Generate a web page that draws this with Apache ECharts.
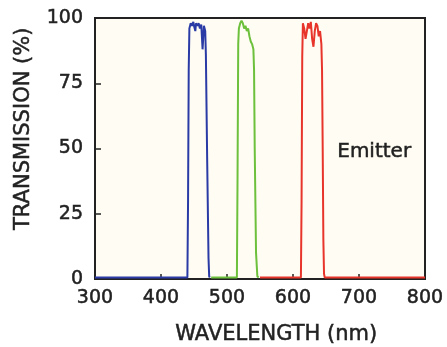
<!DOCTYPE html>
<html>
<head>
<meta charset="utf-8">
<script src="https://cdn.jsdelivr.net/npm/echarts@6/dist/echarts.min.js"></script>
<style>
html,body{margin:0;padding:0;background:#ffffff;}
#chart{width:447px;height:347px;}
</style>
</head>
<body>
<div id="chart"></div>
<script>
// Axis ticks
const xTicks = [300, 400, 500, 600, 700, 800];
const yTicks = [0, 25, 50, 75, 100];

// Blue emitter band
const blueWl = [300, 440, 441, 442, 443, 445, 447, 449, 450, 452, 453, 455, 457, 459, 461, 463, 465, 467, 468, 470, 472, 473, 474];
const blueT  = [0.6, 0.6, 30, 80, 96, 98, 97, 98.5, 97, 95, 98, 97, 98, 96, 97.5, 88, 97, 95, 86, 45, 8, 1, 0.6];

// Green emitter band
const greenWl = [476, 515, 516, 517, 518, 520, 522, 524, 526, 528, 530, 532, 534, 536, 538, 540, 541, 542, 544, 546, 548];
const greenT  = [0.6, 0.6, 40, 90, 96, 98, 99, 98, 96, 97, 95, 96, 93, 91, 90, 88, 80, 50, 10, 1, 0.6];

// Red emitter band
const redWl = [550, 612, 613, 614, 615, 617, 619, 621, 623, 625, 627, 629, 631, 633, 635, 637, 639, 641, 643, 644, 645, 646, 647, 648, 800];
const redT  = [0.6, 0.6, 30, 85, 98, 96, 92, 95, 98, 96, 98.5, 92, 89, 95, 98, 97, 93, 95, 90, 80, 50, 15, 2, 0.6, 0.6];

const zip = (a, b) => a.map((v, i) => [v, b[i]]);

const chart = echarts.init(document.getElementById('chart'));
const font = 'DejaVu Sans';
const txt = '#222222';
const heavy = { textBorderColor: txt, textBorderWidth: 0.5 };

chart.setOption({
  animation: false,
  backgroundColor: '#ffffff',
  grid: {
    left: 95, right: 22, top: 18, bottom: 68,
    show: true, backgroundColor: '#FFFDF3', borderColor: '#222222', borderWidth: 2
  },
  xAxis: {
    type: 'value', min: xTicks[0], max: xTicks[xTicks.length - 1], interval: 100,
    axisLine: { show: true, lineStyle: { color: '#222222', width: 2 } },
    axisTick: { show: true, inside: true, length: 5, lineStyle: { color: '#222222', width: 1.5 } },
    splitLine: { show: false },
    axisLabel: Object.assign({ fontFamily: font, fontSize: 19, color: txt, margin: 10 }, heavy)
  },
  yAxis: {
    type: 'value', min: yTicks[0], max: yTicks[yTicks.length - 1], interval: 25,
    axisLine: { show: true, lineStyle: { color: '#222222', width: 2 } },
    axisTick: { show: true, inside: true, length: 6, lineStyle: { color: '#222222', width: 1.5 } },
    splitLine: { show: false },
    axisLabel: Object.assign({ fontFamily: font, fontSize: 19, color: txt, margin: 12 }, heavy)
  },
  series: [
    { type: 'line', data: zip(blueWl, blueT), showSymbol: false, lineStyle: { color: '#2B3BA6', width: 2 } },
    { type: 'line', data: zip(greenWl, greenT), showSymbol: false, lineStyle: { color: '#6DC03C', width: 2 } },
    { type: 'line', data: zip(redWl, redT), showSymbol: false, lineStyle: { color: '#E8352B', width: 2 } }
  ],
  graphic: [
    { type: 'text', left: 337, top: 142, style: { text: 'Emitter', fontFamily: font, fontSize: 20, fill: txt, stroke: txt, lineWidth: 0.5 } },
    { type: 'text', left: 175, top: 324, style: { text: 'WAVELENGTH (nm)', fontFamily: font, fontSize: 21, fill: txt, stroke: txt, lineWidth: 0.5 } },
    { type: 'text', x: 13, y: 230, rotation: Math.PI / 2, style: { text: 'TRANSMISSION (%)', fontFamily: font, fontSize: 21, fill: txt, stroke: txt, lineWidth: 0.5, textVerticalAlign: 'top' } }
  ]
});
</script>
</body>
</html>
